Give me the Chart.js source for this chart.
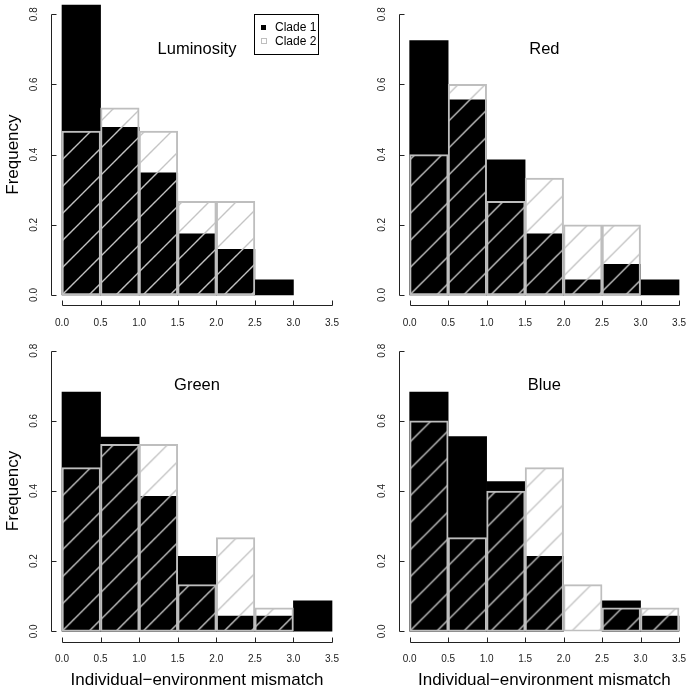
<!DOCTYPE html>
<html>
<head>
<meta charset="utf-8">
<script src="https://cdn.jsdelivr.net/npm/chart.js@4.4.1/dist/chart.umd.min.js"></script>
<style>
    html, body {
        margin: 0;
        padding: 0;
        background: #ffffff;
        overflow: hidden;
        width: 689px;
        height: 689px;
    }

    canvas {
        position: absolute;
        left: 0;
        top: 0;
    }
</style>
</head>
<body>
<canvas id="panel0" width="700" height="689"></canvas>
<canvas id="panel1" width="700" height="689"></canvas>
<canvas id="panel2" width="700" height="689"></canvas>
<canvas id="panel3" width="700" height="689"></canvas>
<script>
// bin mids of the histograms (bins 0-0.5, 0.5-1, ... 3-3.5)
const binMids = [0.25, 0.75, 1.25, 1.75, 2.25, 2.75, 3.25];

const xTicks = [0, 0.5, 1, 1.5, 2, 2.5, 3, 3.5];
const xTickLabels = ["0.0", "0.5", "1.0", "1.5", "2.0", "2.5", "3.0", "3.5"];
const yTicks = [0, 0.2, 0.4, 0.6, 0.8];
const yTickLabels = ["0.0", "0.2", "0.4", "0.6", "0.8"];

const panelTitles = ["Luminosity", "Red", "Green", "Blue"];
const seriesNames = ["Clade 1", "Clade 2"];

const lumClade1 = [0.826, 0.478, 0.348, 0.174, 0.13, 0.043, 0];
const lumClade2 = [0.467, 0.533, 0.467, 0.267, 0.267, 0, 0];

const redClade1 = [0.725, 0.556, 0.385, 0.174, 0.043, 0.087, 0.043];
const redClade2 = [0.4, 0.6, 0.267, 0.333, 0.2, 0.2, 0];

const greenClade1 = [0.682, 0.554, 0.385, 0.214, 0.043, 0.043, 0.087];
const greenClade2 = [0.467, 0.533, 0.533, 0.133, 0.267, 0.067, 0];

const blueClade1 = [0.682, 0.555, 0.427, 0.214, 0, 0.087, 0.043];
const blueClade2 = [0.6, 0.267, 0.4, 0.467, 0.133, 0.067, 0.067];

const FONT = "'Liberation Sans', Arial, Helvetica, sans-serif";
const AXIS_COLOR = "#222222";
const HATCH_COLOR = "#c4c4c4";
const BORDER_COLOR = "#bebebe";

// chart areas (R plot regions) of the 4 panels, as padding on a 700x689 canvas
const panelPads = [
    { left: 51.2, top: 3, right: 357.2, bottom: 382.8 },
    { left: 398.9, top: 3, right: 10.2, bottom: 382.8 },
    { left: 51.2, top: 339.5, right: 357.2, bottom: 46.5 },
    { left: 398.9, top: 339.5, right: 10.2, bottom: 46.5 }
];

function makeHatch(ctx) {
    const size = 27;
    const tile = document.createElement("canvas");
    tile.width = size;
    tile.height = size;
    const t = tile.getContext("2d");
    t.strokeStyle = HATCH_COLOR;
    t.lineWidth = 1.4;
    t.beginPath();
    t.moveTo(-2, size + 2);
    t.lineTo(size + 2, -2);
    t.moveTo(-2, 2);
    t.lineTo(2, -2);
    t.moveTo(size - 2, size + 2);
    t.lineTo(size + 2, size - 2);
    t.stroke();
    return ctx.createPattern(tile, "repeat");
}

function toPoints(values) {
    return values.map((v, i) => ({ x: binMids[i], y: v === 0 ? null : v }));
}

// anchor the hatching so a line runs through the (0,0) corner of the panel
const hatchAnchor = {
    id: "hatchAnchor",
    beforeDatasetsDraw(chart) {
        const x0 = chart.scales.x.getPixelForValue(0);
        const y0 = chart.scales.y.getPixelForValue(0);
        const pattern = chart.data.datasets[0].backgroundColor;
        if (pattern && pattern.setTransform) {
            pattern.setTransform(new DOMMatrix().translate(x0, y0));
        }
    }
};

// R-style axes, title, axis labels and legend
const rAxes = {
    id: "rAxes",
    afterDraw(chart, args, opts) {
        const ctx = chart.ctx;
        const xs = chart.scales.x;
        const ys = chart.scales.y;
        const area = chart.chartArea;

        ctx.save();
        ctx.strokeStyle = AXIS_COLOR;
        ctx.fillStyle = AXIS_COLOR;
        ctx.lineWidth = 1;

        // x axis
        const ay = Math.round(area.bottom) - 0.5;
        ctx.beginPath();
        ctx.moveTo(Math.round(xs.getPixelForValue(xTicks[0])) + 0.5, ay);
        ctx.lineTo(Math.round(xs.getPixelForValue(xTicks[xTicks.length - 1])) + 0.5, ay);
        xTicks.forEach((v) => {
            const px = Math.round(xs.getPixelForValue(v)) + 0.5;
            ctx.moveTo(px, ay);
            ctx.lineTo(px, ay - 5);
        });
        ctx.stroke();

        ctx.font = "10px " + FONT;
        ctx.textAlign = "center";
        ctx.textBaseline = "middle";
        xTicks.forEach((v, i) => {
            ctx.fillText(xTickLabels[i], xs.getPixelForValue(v), area.bottom + 17);
        });

        // y axis
        const ax = Math.round(area.left) + 0.5;
        ctx.beginPath();
        ctx.moveTo(ax, Math.round(ys.getPixelForValue(yTicks[0])) + 0.5);
        ctx.lineTo(ax, Math.round(ys.getPixelForValue(yTicks[yTicks.length - 1])) + 0.5);
        yTicks.forEach((v) => {
            const py = Math.round(ys.getPixelForValue(v)) + 0.5;
            ctx.moveTo(ax, py);
            ctx.lineTo(ax + 5, py);
        });
        ctx.stroke();

        yTicks.forEach((v, i) => {
            ctx.save();
            ctx.translate(area.left - 17, ys.getPixelForValue(v));
            ctx.rotate(-Math.PI / 2);
            ctx.fillText(yTickLabels[i], 0, 0);
            ctx.restore();
        });

        // panel title
        const midX = (xs.getPixelForValue(0) + xs.getPixelForValue(3.5)) / 2;
        ctx.fillStyle = "#000000";
        ctx.font = "16.5px " + FONT;
        ctx.fillText(opts.title, midX, ys.getPixelForValue(0.7));

        ctx.font = "17px " + FONT;
        if (opts.yLabel) {
            ctx.save();
            ctx.translate(13, (area.top + area.bottom) / 2);
            ctx.rotate(-Math.PI / 2);
            ctx.fillText("Frequency", 0, 0);
            ctx.restore();
        }
        if (opts.xLabel) {
            ctx.fillText("Individual\u2212environment mismatch", midX, 680);
        }

        if (opts.legend) {
            ctx.strokeStyle = "#000000";
            ctx.strokeRect(254.5, 14.5, 64, 40);
            ctx.font = "12px " + FONT;
            ctx.textAlign = "left";
            ctx.fillStyle = "#000000";
            ctx.fillRect(261, 25, 5, 5);
            ctx.fillText(seriesNames[0], 275, 28);
            ctx.strokeStyle = BORDER_COLOR;
            ctx.strokeRect(261.5, 38.5, 5, 5);
            ctx.fillStyle = "#000000";
            ctx.fillText(seriesNames[1], 275, 41.5);
        }

        ctx.restore();
    }
};

function makePanel(index, clade1, clade2) {
    const canvas = document.getElementById("panel" + index);
    const ctx = canvas.getContext("2d");

    return new Chart(ctx, {
        type: "bar",

        data: {
            datasets: [
                {
                    label: seriesNames[1],
                    data: toPoints(clade2),
                    backgroundColor: makeHatch(ctx),
                    borderColor: BORDER_COLOR,
                    borderWidth: 1.3,
                    borderSkipped: false,
                    grouped: false,
                    barPercentage: 1,
                    categoryPercentage: 1
                },
                {
                    label: seriesNames[0],
                    data: toPoints(clade1),
                    backgroundColor: "#000000",
                    borderColor: "#000000",
                    borderWidth: 0,
                    borderSkipped: false,
                    grouped: false,
                    barPercentage: 1,
                    categoryPercentage: 1
                }
            ]
        },

        options: {
            responsive: false,
            animation: false,
            devicePixelRatio: 1,

            layout: {
                padding: panelPads[index]
            },

            plugins: {
                legend: { display: false },
                tooltip: { enabled: false },
                rAxes: {
                    title: panelTitles[index],
                    yLabel: index % 2 === 0,
                    xLabel: index >= 2,
                    legend: index === 0
                }
            },

            scales: {
                x: {
                    type: "linear",
                    offset: false,
                    min: -0.14,
                    max: 3.64,
                    display: false
                },
                y: {
                    type: "linear",
                    min: -0.032,
                    max: 0.832,
                    display: false
                }
            }
        },

        plugins: [hatchAnchor, rAxes]
    });
}

makePanel(0, lumClade1, lumClade2);
makePanel(1, redClade1, redClade2);
makePanel(2, greenClade1, greenClade2);
makePanel(3, blueClade1, blueClade2);
</script>
</body>
</html>
